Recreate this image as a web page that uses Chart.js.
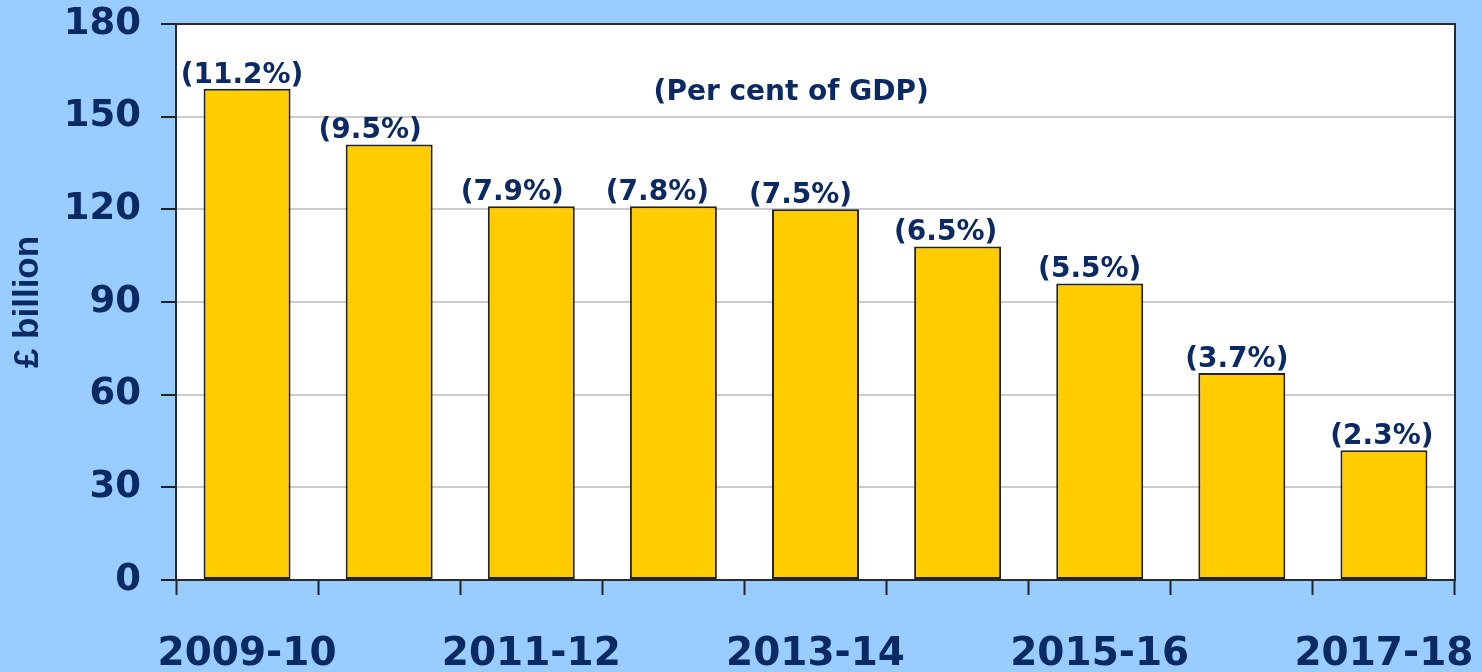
<!DOCTYPE html>
<html>
<head>
<meta charset="utf-8">
<script src="https://cdn.jsdelivr.net/npm/chart.js@4"></script>
<style>
  html, body { margin: 0; padding: 0; background: #99ccff; }
  #wrap { width: 1482px; height: 672px; }
</style>
</head>
<body>
<div id="wrap"><canvas id="myChart" width="1482" height="672"></canvas></div>
<script>
// dados
const anos = ['2009-10', '2010-11', '2011-12', '2012-13', '2013-14', '2014-15', '2015-16', '2016-17', '2017-18'];
const bilhoes = [159, 141, 121, 121, 120, 108, 96, 67, 42];
const percentPIB = ['(11.2%)', '(9.5%)', '(7.9%)', '(7.8%)', '(7.5%)', '(6.5%)', '(5.5%)', '(3.7%)', '(2.3%)'];
const ticksY = [0, 30, 60, 90, 120, 150, 180];

const azulEscuro = '#0b2a63';
// deslocamento horizontal dos rótulos (no original não ficam bem centrados)
const desvioRotulo = [-5, -19, -19, -16, -15, -12, -10, -5, -2];

// fundo branco da área do gráfico + moldura + rótulos das barras
const molduraPlugin = {
    id: 'moldura',
    beforeDraw(chart) {
        const { ctx, chartArea: a } = chart;
        ctx.save();
        ctx.fillStyle = '#ffffff';
        ctx.fillRect(a.left, a.top, a.right - a.left, a.bottom - a.top);
        ctx.restore();
    },
    afterDraw(chart) {
        const { ctx, chartArea: a } = chart;
        ctx.save();
        ctx.strokeStyle = '#2a2a2a';
        ctx.lineWidth = 2;
        ctx.beginPath();
        ctx.moveTo(a.left, a.top);
        ctx.lineTo(a.right, a.top);
        ctx.lineTo(a.right, a.bottom);
        ctx.stroke();

        // rótulos (percentagem do PIB)
        ctx.fillStyle = azulEscuro;
        ctx.font = 'bold 28px "DejaVu Sans"';
        ctx.textAlign = 'center';
        ctx.textBaseline = 'alphabetic';
        chart.getDatasetMeta(0).data.forEach((bar, i) => {
            ctx.fillText(percentPIB[i], bar.x + desvioRotulo[i], bar.y - 6);
        });

        ctx.fillText('(Per cent of GDP)', a.left + (a.right - a.left) * 0.481, a.top + 76);
        ctx.restore();
    }
};

const ctx = document.getElementById('myChart').getContext('2d');
const myChart = new Chart(ctx, {
    type: 'bar',
    data: {
        labels: anos,
        datasets: [{
            label: '£ billion',
            data: bilhoes,
            backgroundColor: '#ffcc00',
            borderColor: '#222222',
            borderWidth: 2,
            borderSkipped: false,
            barPercentage: 0.612,
            categoryPercentage: 1
        }]
    },
    options: {
        responsive: false,
        animation: false,
        layout: {
            padding: { top: 24, right: 27, bottom: 0, left: 0 }
        },
        plugins: {
            legend: { display: false },
            tooltip: { enabled: false }
        },
        scales: {
            x: {
                grid: {
                    offset: true,
                    drawOnChartArea: false,
                    drawTicks: true,
                    tickLength: 15,
                    tickColor: '#222222',
                    tickWidth: 2
                },
                border: { display: true, color: '#2a2a2a', width: 2 },
                ticks: {
                    autoSkip: false,
                    maxRotation: 0,
                    padding: 36,
                    color: azulEscuro,
                    font: { family: 'DejaVu Sans', weight: 'bold', size: 39 },
                    callback: function(value, index) {
                        return index % 2 === 0 ? anos[index] : '';
                    }
                },
                afterFit: function(scale) {
                    scale.height = 92;
                    scale.paddingLeft = 0;
                    scale.paddingRight = 0;
                }
            },
            y: {
                min: 0,
                max: 180,
                afterBuildTicks: function(scale) {
                    scale.ticks = ticksY.map(v => ({ value: v }));
                },
                grid: {
                    color: '#cccccc',
                    lineWidth: 2,
                    tickLength: 15,
                    tickColor: '#222222',
                    tickWidth: 2
                },
                border: { display: true, color: '#2a2a2a', width: 2 },
                ticks: {
                    padding: 20,
                    color: azulEscuro,
                    font: { family: 'DejaVu Sans', weight: 'bold', size: 37 }
                },
                title: {
                    display: true,
                    text: '£ billion',
                    color: azulEscuro,
                    padding: { top: 7, bottom: 0 },
                    font: { family: 'Liberation Sans', weight: 'bold', size: 35, lineHeight: 1.2 }
                },
                afterFit: function(scale) {
                    scale.width = 176;
                    scale.paddingTop = 0;
                    scale.paddingBottom = 0;
                }
            }
        }
    },
    plugins: [molduraPlugin]
});
</script>
</body>
</html>
